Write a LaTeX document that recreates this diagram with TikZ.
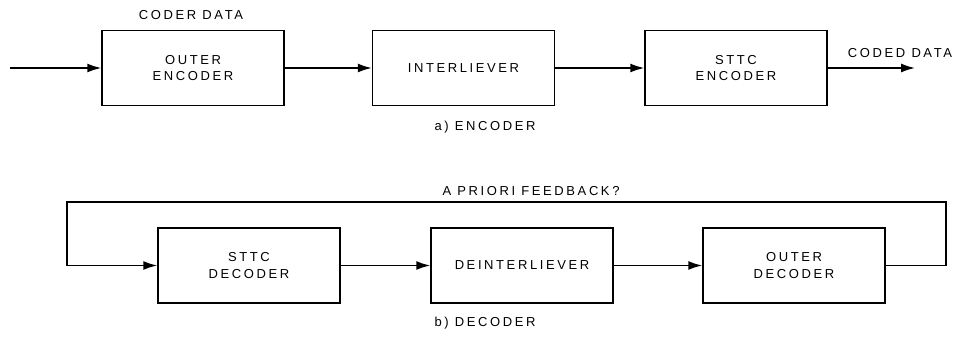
\documentclass[tikz,border=0pt]{standalone}
\usepackage{fontspec}
\setmainfont{Liberation Sans}[LetterSpace=20]
\usepackage{tikz}
\usetikzlibrary{arrows.meta,positioning}

\begin{document}
\begin{tikzpicture}[x=1pt,y=1pt,
  every node/.style={font=\fontsize{13}{16.5}\selectfont},
  block/.style={draw, line width=1.5pt, minimum width=182pt, minimum height=75pt, align=center, inner sep=0pt},
  flow/.style={line width=1.5pt, -{Latex[length=14pt,width=9pt]}}]
  \useasboundingbox (0,0) rectangle (957,337);
  % encoder
  \node[block](outerenc) at (193,269){OUTER\\ENCODER};
  \node[block](interl) at (463.5,269){INTERLIEVER};
  \node[block](sttcenc) at (736,269){STTC\\ENCODER};
  \coordinate (datain) at (10,269);
  \coordinate (dataout) at (915,269);
  \draw[flow](datain)--(outerenc.west);
  \draw[flow](outerenc.east)--(interl.west);
  \draw[flow](interl.east)--(sttcenc.west);
  \draw[flow](sttcenc.east)--(dataout);
  \node(coderdata) at (191,322){CODER DATA};
  \node(codeddata) at (900,284){CODED DATA};
  \node(enccap) at (485,210){a) ENCODER};
  % decoder
  \node[block](sttcdec) at (249,71.5){STTC\\DECODER};
  \node[block](deinterl) at (522,71.5){DEINTERLIEVER};
  \node[block](outerdec) at (794,71.5){OUTER\\DECODER};
  \coordinate (fbright) at (946,135);
  \coordinate (fbleft) at (67,135);
  \draw[flow](sttcdec.east)--(deinterl.west);
  \draw[flow](deinterl.east)--(outerdec.west);
  \draw[flow](outerdec.east)-|(fbright)--(fbleft)|-(sttcdec.west);
  \node(feedback) at (531,146){A PRIORI FEEDBACK?};
  \node(deccap) at (485,14){b) DECODER};
\end{tikzpicture}
\end{document}
